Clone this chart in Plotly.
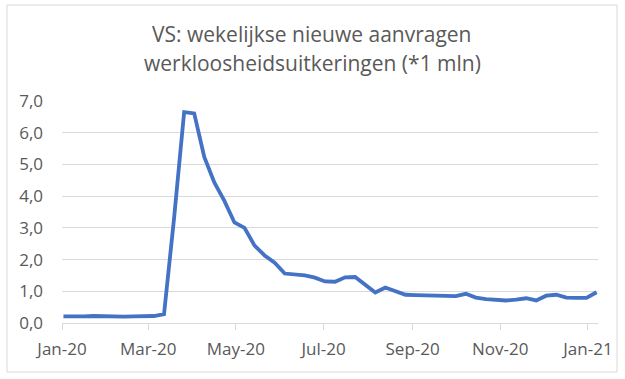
import plotly.graph_objects as go
import pandas as pd

# Weekly new unemployment claims (millions), weekly dates
dates = pd.date_range("2020-01-02", periods=54, freq="7D")
claims = [0.21, 0.20, 0.21, 0.22, 0.21, 0.20, 0.20, 0.21, 0.22, 0.22,
          0.28, 3.31, 6.65, 6.61, 5.24, 4.43, 3.85, 3.17, 3.00, 2.44,
          2.13, 1.90, 1.56, 1.53, 1.50, 1.43, 1.31, 1.30, 1.44, 1.45,
          1.20, 0.96, 1.12, 1.01, 0.89, 0.88, 0.87, 0.88, 0.85, 0.85,
          0.92, 0.80, 0.75, 0.74, 0.71, 0.74, 0.78, 0.71, 0.86, 0.89,
          0.80, 0.79, 0.79, 0.97]

title_line1 = "VS: wekelijkse nieuwe aanvragen"
title_line2 = "werkloosheidsuitkeringen (*1 mln)"
y_ticks = [0, 1, 2, 3, 4, 5, 6, 7]

FONT = "Open Sans"
GREY = "#595959"
GRID = "#d9d9d9"

fig = go.Figure()
fig.add_trace(go.Scatter(x=dates, y=claims, mode="lines",
                         line=dict(color="#4472C4", width=3.8),
                         hoverinfo="skip"))

L, R, T, B = 62, 27, 101, 56
W, H = 625, 379
pw, ph = W - L - R, H - T - B

def px_x(p):
    return (p - L) / pw

def px_y(p):
    return (H - B - p) / ph

fig.update_layout(
    width=W, height=H,
    margin=dict(l=L, r=R, t=T, b=B, autoexpand=False),
    paper_bgcolor="white", plot_bgcolor="white",
    showlegend=False,
    separators=",.",
    font=dict(family=FONT, color=GREY),
    xaxis=dict(
        type="date", automargin=False,
        range=["2020-01-01", "2021-01-08"],
        tick0="2020-01-01", dtick="M2",
        tickformat="%b-%y",
        showgrid=False, zeroline=False,
        showline=True, linecolor=GRID, linewidth=1,
        ticks="outside", ticklen=6, tickcolor=GRID,
        ticklabelstandoff=5,
        tickfont=dict(family=FONT, size=17, color=GREY),
    ),
    yaxis=dict(
        range=[0, 7], tickvals=y_ticks, tickformat=".1f", automargin=False,
        showgrid=True, gridcolor=GRID, gridwidth=1,
        zeroline=False, showline=False, ticks="",
        ticklabelstandoff=18,
        tickfont=dict(family=FONT, size=17, color=GREY),
    ),
    annotations=[
        dict(text=title_line1, x=px_x(312), y=px_y(34), xref="paper", yref="paper",
             xanchor="center", yanchor="middle", showarrow=False,
             font=dict(family=FONT, size=21, color=GREY)),
        dict(text=title_line2, x=px_x(312), y=px_y(62.5), xref="paper", yref="paper",
             xanchor="center", yanchor="middle", showarrow=False,
             font=dict(family=FONT, size=21, color=GREY)),
    ],
    shapes=[
        dict(type="rect", xref="paper", yref="paper",
             x0=px_x(7), x1=px_x(617), y0=px_y(372), y1=px_y(5),
             line=dict(color=GRID, width=1), fillcolor="rgba(0,0,0,0)", layer="below"),
    ],
)

fig.write_html("out.html", config={"displayModeBar": False},
               post_script="document.body.style.margin='0';")
